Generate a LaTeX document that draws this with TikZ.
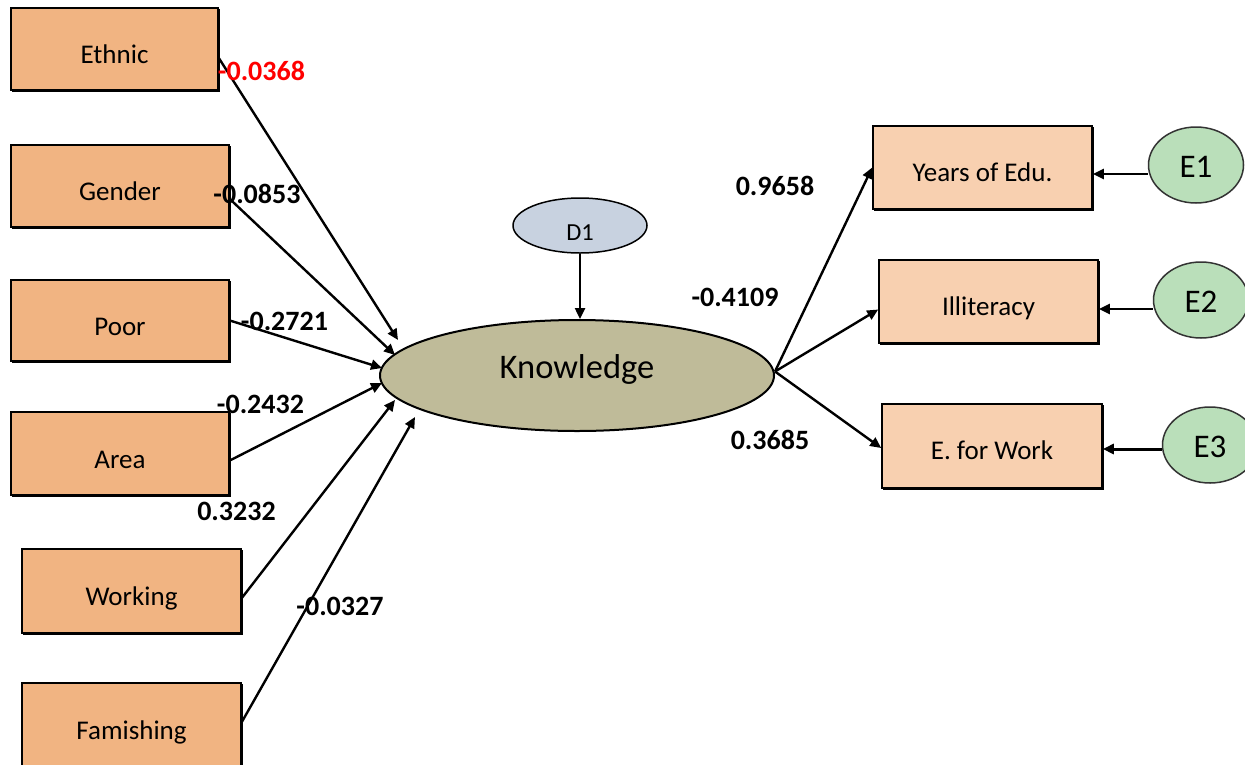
\documentclass[tikz,border=0pt]{standalone}
\usepackage{fontspec}
\setmainfont{Carlito}
\usetikzlibrary{arrows.meta,shapes.geometric}
\definecolor{leftbox}{RGB}{241,180,130}
\definecolor{rightbox}{RGB}{248,208,176}
\definecolor{knowfill}{RGB}{191,187,153}
\definecolor{dfill}{RGB}{200,210,224}
\definecolor{efill}{RGB}{186,223,186}
\definecolor{labred}{RGB}{255,0,0}
\begin{document}
\begin{tikzpicture}[x=1pt,y=-1pt,
  shadowed/.style={preaction={draw=black,fill=black,line width=1.6pt,transform canvas={shift={(1.5pt,-1.5pt)}}}},
  boxl/.style={shadowed,draw=black,line width=1.6pt,fill=leftbox,inner sep=0pt,
    font=\fontsize{27}{30}\selectfont,text height=29pt,text depth=0pt},
  boxr/.style={shadowed,draw=black,line width=1.6pt,fill=rightbox,inner sep=0pt,
    font=\fontsize{27}{30}\selectfont,text height=27pt,text depth=0pt},
  errnode/.style={ellipse,draw=black!80,line width=1.5pt,fill=efill,inner sep=0pt,
    minimum width=95pt,minimum height=76pt,font=\fontsize{33}{36}\selectfont,
    text height=25pt,text depth=0pt},
  coef/.style={font=\bfseries\fontsize{28}{30}\selectfont,inner sep=0pt},
  arr/.style={draw=black,line width=2.4pt,-{Triangle[length=11pt,width=10pt]}}
]
\useasboundingbox (0,0) rectangle (1245,764);
% left boxes
\node[boxl,minimum width=207pt,minimum height=82pt] (ethnic) at (114.5,49) {Ethnic};
\node[boxl,minimum width=218pt,minimum height=82pt] (gender) at (120,186) {Gender};
\node[boxl,minimum width=218pt,minimum height=81pt] (poor) at (120,320.5) {Poor};
\node[boxl,minimum width=218pt,minimum height=83pt] (area) at (120,453.5) {Area};
\node[boxl,minimum width=219pt,minimum height=84pt] (working) at (131.5,591) {Working};
\node[boxl,minimum width=219pt,minimum height=84pt] (famish) at (131.5,725) {Famishing};
% central
\node[ellipse,draw=black,line width=2pt,fill=knowfill,inner sep=0pt,
  minimum width=394pt,minimum height=111pt,font=\fontsize{34.5}{38}\selectfont,
  text height=22pt,text depth=16pt] (know) at (577,375.5) {Knowledge};
\node[ellipse,draw=black,line width=1.5pt,fill=dfill,inner sep=0pt,
  minimum width=134pt,minimum height=55pt,font=\fontsize{24.5}{28}\selectfont,
  text height=29pt,text depth=0pt] (d1) at (580,225.5) {D1};
% right boxes
\node[boxr,minimum width=219pt,minimum height=83pt] (years) at (982.5,167.5) {Years of Edu.};
\node[boxr,minimum width=219pt,minimum height=83pt] (illit) at (988.5,301.5) {Illiteracy};
\node[boxr,minimum width=220pt,minimum height=84pt] (work) at (992,446) {E. for Work};
% error terms
\node[errnode] (e1) at (1196,165) {E1};
\node[errnode] (e2) at (1201,300) {E2};
\node[errnode] (e3) at (1210,445) {E3};
% targets near Knowledge
\coordinate (t1) at (398,340);
\coordinate (t2) at (395,355);
\coordinate (t3) at (382,368);
\coordinate (t4) at (382,383);
\coordinate (t5) at (395,400);
\coordinate (t6) at (415,417);
% arrows left
\draw[arr] ([yshift=-9pt]ethnic.east) -- (t1);
\draw[arr] ([yshift=-13pt]gender.east) -- (t2);
\draw[arr] (poor.east) -- (t3);
\draw[arr] ([yshift=-7pt]area.east) -- (t4);
\draw[arr] ([yshift=-7pt]working.east) -- (t5);
\draw[arr] ([yshift=3pt]famish.east) -- (t6);
% D1
\draw[arr] (d1.south) -- (d1.south |- know.north);
% arrows right
\draw[arr] ([yshift=4pt]know.east) -- (years.west);
\draw[arr] ([yshift=4pt]know.east) -- ([yshift=-8pt]illit.west);
\draw[arr] ([yshift=4pt]know.east) -- ([yshift=-2pt]work.west);
% error arrows
\draw[arr] ([yshift=-9pt]e1.west) -- ([yshift=-9pt]e1.west -| years.east);
\draw[arr] ([yshift=-9pt]e2.west) -- ([yshift=-9pt]e2.west -| illit.east);
\draw[arr,line width=3pt] ([yshift=-4pt]e3.west) -- ([yshift=-4pt]e3.west -| work.east);
% coefficients
\node[coef,text=labred] (c1) at (261.5,71) {-0.0368};
\node[coef] (c2) at (257,193.5) {-0.0853};
\node[coef] (c3) at (284.5,321.5) {-0.2721};
\node[coef] (c4) at (260.5,404) {-0.2432};
\node[coef] (c5) at (236.5,511) {0.3232};
\node[coef] (c6) at (340,606.5) {-0.0327};
\node[coef] (c7) at (775,186) {0.9658};
\node[coef] (c8) at (735,297) {-0.4109};
\node[coef] (c9) at (770,440) {0.3685};
\end{tikzpicture}
\end{document}
